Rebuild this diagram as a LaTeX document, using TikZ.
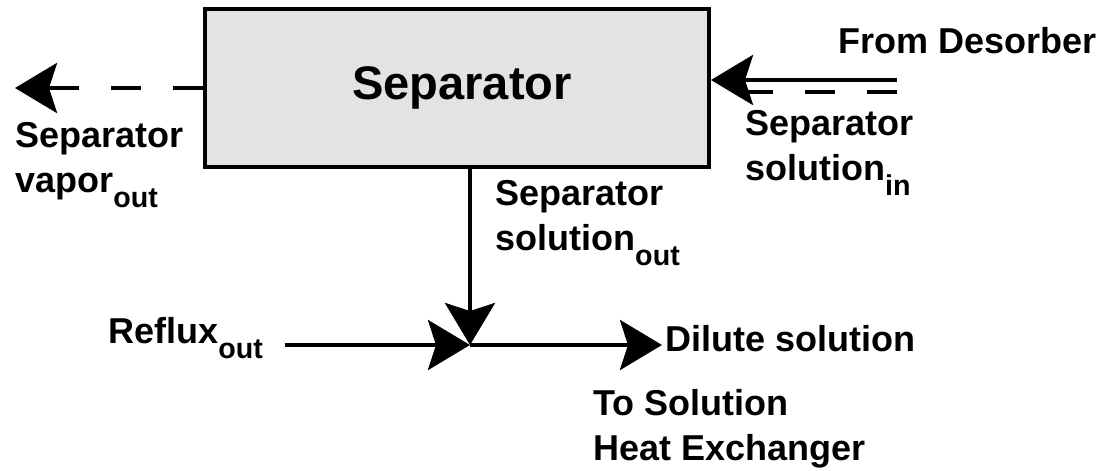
\documentclass[tikz,border=0pt]{standalone}
\usepackage{fontspec}
\setmainfont{Liberation Sans}
\usetikzlibrary{arrows.meta}
\usepackage{xcolor}
\colorlet{sepgray}{black!11}
\newcommand{\lowsub}[1]{\raisebox{-11.25pt}{\fontsize{21.5pt}{21.5pt}\selectfont #1}}

\begin{document}
\begin{tikzpicture}[
  x = 0.75pt, y = -0.75pt,
  font = \fontsize{27pt}{33.75pt}\selectfont\bfseries,
  %
  % ── Node styles ─────────────────────────────────────────────────
  unit/.style  = {draw, line width=3pt, fill=sepgray, inner sep=0pt,
                  minimum width=378pt, minimum height=119pt,
                  font=\fontsize{35.3pt}{40pt}\selectfont\bfseries},
  lbl/.style   = {anchor=base west, align=left, inner sep=0pt},
  arrow/.style = {-{Stealth[length=31.5pt, width=37.5pt, inset=6pt]},
                  line width=3pt},
  darr/.style  = {arrow, dash pattern=on 22.5pt off 24pt},
  dline/.style = {line width=3pt, dash pattern=on 22.5pt off 24pt},
]

\useasboundingbox (0,0) rectangle (1115,471);

%% ═══════════════════════════════════════════════════════════════════
%% SEPARATOR UNIT
%% ═══════════════════════════════════════════════════════════════════

\node[unit] (sep) at (457,88) {\hspace*{7.5pt}Separator};

%% ── Stream ends and mixing point ────────────────────────────────
\coordinate (vap-end)    at (15,88);
\coordinate (des-in)     at (897,80);
\coordinate (des-dash)   at (897,92);
\coordinate (des-dash-e) at (740,92);
\coordinate (mix)        at (470,345);
\coordinate (ref-start)  at (285,345);
\coordinate (dil-end)    at (662,345);

%% ── Labels (multi-line ones sit on their last baseline) ─────────
\node[lbl] (from-des) at (838,53)  {From Desorber};
\node[lbl] (sol-in)   at (745,180) {Separator\\solution\lowsub{in}};
\node[lbl] (vap-out)  at (15,192)  {Separator\\vapor\lowsub{out}};
\node[lbl] (sol-out)  at (495,250) {Separator\\solution\lowsub{out}};
\node[lbl] (ref-out)  at (108,343) {Reflux\lowsub{out}};
\node[lbl] (dil)      at (665,351) {Dilute solution};
\node[lbl] (to-shx)   at (593,460) {To Solution\\Heat Exchanger};

%% ── Arrows ───────────────────────────────────────────────────────
\draw[darr]  (sep.west) -- (vap-end);
\draw[arrow] (des-in) -- (sep.east |- des-in);
\draw[dline] (des-dash) -- (des-dash-e);
\draw[arrow] (sep.south -| mix) -- (mix);
\draw[arrow] (ref-start) -- (mix);
\draw[arrow] (mix) -- (dil-end);

\end{tikzpicture}
\end{document}
